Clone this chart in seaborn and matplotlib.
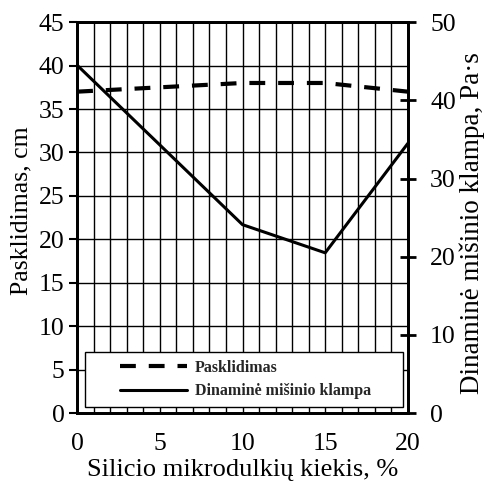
import matplotlib
matplotlib.use("Agg")
import matplotlib.pyplot as plt
from matplotlib.patches import Rectangle
import seaborn as sns
import pandas as pd

x_flow = [0, 5, 10, 15, 20]
flow = [37.0, 37.5, 38.0, 38.0, 37.0]
x_visc = [0, 10, 15, 20]
visc = [44.5, 24.1, 20.5, 34.5]

sns.set_theme(style="white")
plt.rcParams['font.family'] = ['Liberation Serif', 'DejaVu Serif']

fig = plt.figure(figsize=(4.85, 4.82), dpi=100)
ax = fig.add_axes([0.159, 0.143, 0.682, 0.811])
ax2 = ax.twinx()

df1 = pd.DataFrame({"x": x_flow, "y": flow})
df2 = pd.DataFrame({"x": x_visc, "y": visc})

sns.lineplot(data=df1, x="x", y="y", ax=ax, color="black", lw=3,
             linestyle=(0, (3.8, 3.1)), label="Pasklidimas", legend=False)
sns.lineplot(data=df2, x="x", y="y", ax=ax2, color="black", lw=2.2,
             label="Dinaminė mišinio klampa", legend=False)

ax.set_xlim(0, 20)
ax.set_ylim(0, 45)
ax2.set_ylim(0, 50)
ax.set_xticks(range(0, 21, 5))
ax.set_xticks(range(0, 21, 1), minor=True)
ax.set_yticks(range(0, 46, 5))
ax2.set_yticks(range(0, 51, 10))
ax.grid(True, which="both", axis="x", color="black", lw=1)
ax.grid(True, which="major", axis="y", color="black", lw=1)
ax.set_axisbelow(True)

for a in (ax, ax2):
    for s in a.spines.values():
        s.set_color("black")
        s.set_linewidth(2)

ax.tick_params(axis="y", which="major", labelsize=18.5, length=6, width=1.5,
               color="black", direction="out", labelcolor="black", pad=3)
ax.tick_params(axis="x", which="major", labelsize=18.5, length=10, width=2,
               color="black", direction="inout", labelcolor="black", pad=9)
ax.tick_params(axis="x", which="minor", length=0)
ax2.tick_params(axis="y", labelsize=18.5, length=12, width=2, color="black",
                direction="inout", labelcolor="black", pad=10)

ax.set_xlabel("Silicio mikrodulkių kiekis, %", fontsize=19, color="black", labelpad=3)
ax.set_ylabel("Pasklidimas, cm", fontsize=18.5, color="black")
ax.yaxis.set_label_coords(-0.135, 0.519)
ax2.set_ylabel("Dinaminė mišinio klampa, Pa·s", fontsize=19.5, color="black")
ax2.yaxis.set_label_coords(1.155, 0.486)

frame = Rectangle((0.024, 0.015), 0.961, 0.141, transform=ax2.transAxes,
                  facecolor="white", edgecolor="black", lw=1, zorder=4)
ax2.add_patch(frame)

h1, l1 = ax.get_legend_handles_labels()
h2, l2 = ax2.get_legend_handles_labels()
leg = ax2.legend(h1 + h2, l1 + l2, loc="center left",
                 bbox_to_anchor=(0.13, 0.0855), bbox_transform=ax2.transAxes,
                 frameon=False, prop={"weight": "bold", "size": 11.5},
                 handlelength=4.2, handletextpad=0.5, borderpad=0,
                 labelspacing=0.45, borderaxespad=0)
leg.set_zorder(6)

fig.savefig("out.png", dpi=100)
